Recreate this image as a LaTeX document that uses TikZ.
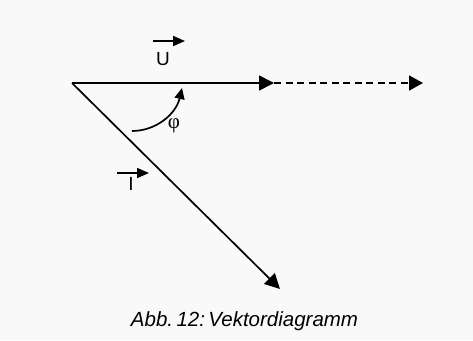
\documentclass[tikz,border=0pt]{standalone}
\usepackage{fontspec}
\setmainfont{Liberation Sans}
\newfontfamily\phifont{Liberation Serif}
\usetikzlibrary{arrows.meta}
\definecolor{bgc}{RGB}{249,249,249}
\tikzset{
  vec/.style={line width=1.7pt,-{Triangle[length=15pt,width=15pt]}},
  dvec/.style={line width=1.7pt,dash pattern=on 7pt off 4.5pt,-{Triangle[length=14pt,width=15pt]}},
  small/.style={line width=1.7pt,-{Triangle[length=12pt,width=10pt]}},
  arcvec/.style={line width=1.7pt,-{Triangle[length=11pt,width=10pt]}},
  lbl/.style={inner sep=0pt,anchor=base,font=\fontsize{19}{21}\selectfont}
}
\begin{document}
\begin{tikzpicture}[x=1pt,y=-1pt]
\fill[bgc] (0,0) rectangle (473,340);
\useasboundingbox (0,0) rectangle (473,340);
\coordinate (O) at (72,83);
\coordinate (U) at (274,83);
\coordinate (E) at (423,83);
\coordinate (I) at (280,289);
\coordinate (A1) at (132,131);
\coordinate (A2) at (182,88);
\coordinate (us) at (153,41);
\coordinate (ue) at (185,41);
\coordinate (is) at (117,173);
\coordinate (ie) at (149,173);
\draw[dvec] (U) -- (E);
\draw[vec] (O) -- (U);
\draw[vec] (O) -- (I);
\draw[arcvec] (A1) .. controls (156,131) and (176,114) .. (A2);
\draw[small] (us) -- (ue);
\draw[small] (is) -- (ie);
\node[lbl] (ulab) at (163,65) {U};
\node[lbl] (ilab) at (131,190) {I};
\node[inner sep=0pt,font=\phifont\fontsize{21}{22}\selectfont] (phi) at (174,126) {φ};
\node[inner sep=0pt,anchor=base,font=\itshape\fontsize{20.5}{22}\selectfont] (cap) at (244.5,326.5) {Abb.\,12:\,Vektordiagramm};
\end{tikzpicture}
\end{document}
